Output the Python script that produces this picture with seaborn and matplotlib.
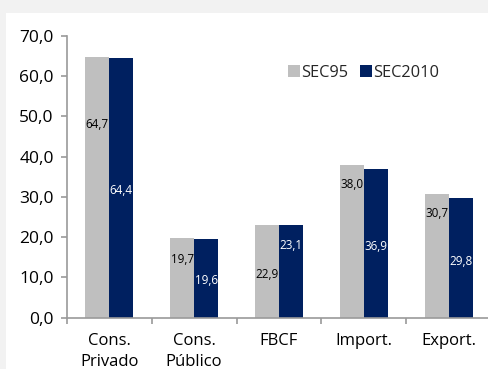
import matplotlib
matplotlib.use("Agg")
import matplotlib.pyplot as plt
from matplotlib.patches import Rectangle
import seaborn as sns
import pandas as pd

# Components of GDP (% of GDP) under the two accounting standards
categories = ["Cons.\nPrivado", "Cons.\nPúblico", "FBCF", "Import.", "Export."]
sec95 = [64.7, 19.7, 22.9, 38.0, 30.7]
sec2010 = [64.4, 19.6, 23.1, 36.9, 29.8]
series_names = ["SEC95", "SEC2010"]

# Vertical placement of each value label, as a share of its bar's height
label_frac = {
    "SEC95": [0.74, 0.73, 0.47, 0.87, 0.84],
    "SEC2010": [0.49, 0.47, 0.78, 0.48, 0.47],
}
colors = {"SEC95": "#bfbfbf", "SEC2010": "#002060"}
label_colors = {"SEC95": "black", "SEC2010": "white"}

df = pd.DataFrame({
    "categoria": categories * 2,
    "serie": [series_names[0]] * len(categories) + [series_names[1]] * len(categories),
    "valor": sec95 + sec2010,
})

sns.set_theme(style="white")
plt.rcParams["font.family"] = ["Open Sans", "DejaVu Sans"]

W, H = 489, 369
fig = plt.figure(figsize=(W / 100, H / 100), dpi=100, facecolor="#f2f2f2")
# white panel inside the light grey frame
fig.patches.append(Rectangle((6 / W, 0), 1, (H - 13) / H, transform=fig.transFigure,
                             facecolor="white", edgecolor="none", zorder=-10))

left, right = 66.7 / W, 491.2 / W
bottom, top = 1 - 317.7 / H, 1 - 35.7 / H
ax = fig.add_axes([left, bottom, right - left, top - bottom])
ax.set_facecolor("none")

sns.barplot(data=df, x="categoria", y="valor", hue="serie", order=categories,
            hue_order=series_names, palette=colors, width=0.566, saturation=1,
            linewidth=0, ax=ax, legend=True)

ax.set_ylim(0, 70)
ax.set_xlim(-0.5, len(categories) - 0.5)
ax.set_yticks(range(0, 71, 10))
ax.set_yticklabels([f"{v:.1f}".replace(".", ",") for v in range(0, 71, 10)])
ax.set_xlabel("")
ax.set_ylabel("")

axis_color = "#9a9a9a"
for side in ("top", "right"):
    ax.spines[side].set_visible(False)
for side in ("left", "bottom"):
    ax.spines[side].set_color(axis_color)
    ax.spines[side].set_linewidth(1.2)

# tick labels in the centre of each category, tick marks on category boundaries
ax.set_xticks(range(len(categories)))
ax.set_xticklabels(categories, fontsize=12, linespacing=1.4)
ax.tick_params(axis="x", which="major", length=0, pad=11, colors="black")
ax.set_xticks([i - 0.5 for i in range(len(categories) + 1)], minor=True)
ax.tick_params(axis="x", which="minor", direction="out", length=4.3,
               width=1.2, color=axis_color, bottom=True)
ax.tick_params(axis="y", direction="out", length=4.3, width=1.2, color=axis_color,
               labelsize=12.5, pad=5, left=True, labelcolor="black")

# value labels
for container, name in zip(ax.containers, series_names):
    vals = sec95 if name == "SEC95" else sec2010
    for patch, v, f in zip(container.patches, vals, label_frac[name]):
        cx = patch.get_x() + patch.get_width() / 2
        ax.text(cx, patch.get_height() * f, f"{v:.1f}".replace(".", ","),
                ha="center", va="center", fontsize=8.4, color=label_colors[name])

handles, labels = ax.get_legend_handles_labels()
ax.get_legend().remove()
fig.legend(handles, labels, loc="center left", bbox_to_anchor=(288 / W, 1 - 73 / H),
           bbox_transform=fig.transFigure, ncol=2, frameon=False, fontsize=11.8,
           handlelength=0.72, handleheight=0.72, handletextpad=0.1,
           columnspacing=0.7, borderpad=0, borderaxespad=0)

fig.savefig("out.png", dpi=100, facecolor=fig.get_facecolor())
